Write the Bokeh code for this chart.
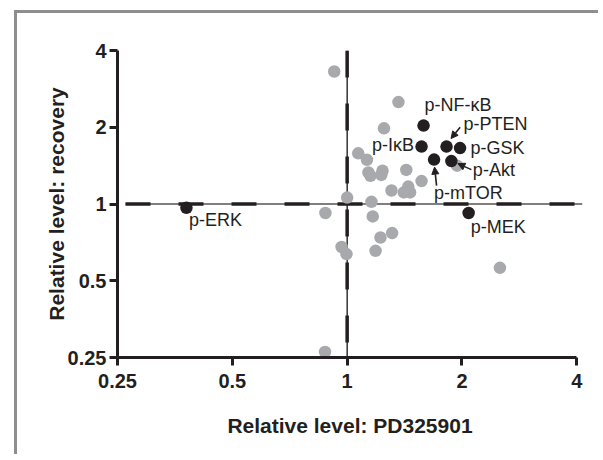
from bokeh.plotting import figure
from bokeh.models import Range1d, ColumnDataSource, Arrow, NormalHead, FixedTicker, CustomJSTickFormatter
from bokeh.embed import file_html
from bokeh.resources import INLINE
from bokeh.core.properties import value
import math

# ---- data ----
gray_x = [0.925, 1.363, 1.249, 1.069, 1.127, 1.137, 1.151, 1.238, 1.229, 1.429, 1.567,
          1.307, 1.408, 1.446, 1.462, 1.0, 1.158, 0.877, 1.167, 1.312, 1.223, 0.967,
          0.996, 1.187, 2.515, 0.875, 1.942]
gray_y = [3.31, 2.51, 1.98, 1.58, 1.49, 1.33, 1.29, 1.35, 1.30, 1.36, 1.23,
          1.13, 1.11, 1.17, 1.11, 1.06, 1.02, 0.922, 0.894, 0.769, 0.739, 0.678,
          0.636, 0.655, 0.562, 0.263, 1.414]

names = ["p-NF-\u03baB", "p-I\u03baB", "p-PTEN", "p-GSK", "p-mTOR", "p-Akt", "p-MEK", "p-ERK"]
black_x = [1.586, 1.567, 1.822, 1.977, 1.69, 1.876, 2.082, 0.379]
black_y = [2.03, 1.68, 1.68, 1.657, 1.493, 1.473, 0.922, 0.967]

ticks = [0.25, 0.5, 1, 2, 4]
tick_labels = ["0.25", "0.5", "1", "2", "4"]

# ---- label styling (screen offsets) ----
label_dx = [1, -7.5, 17, 10.5, 0, 21.5, 2, 2.5]
label_dy = [-21, -2, -23, 0, 33, 8.5, 14, 12]
label_align = ["left", "right", "left", "left", "left", "left", "left", "left"]

# arrows: (label name, start dx, start dy, end dx, end dy) in pixels from point
arrow_specs = [("p-PTEN", 13.6, -19.3, 4.5, -8.0),
               ("p-Akt", 20.0, 8.5, 6.5, 2.5),
               ("p-mTOR", 2.5, 26.0, 0.5, 7.5)]

X0, X1 = 0.25, 4.14
Y0, Y1 = 0.25, 4.0
W, H = 584, 444
BL, BT = 100, 37
FW, FH = 465, 307
BR = W - BL - FW
BB = H - BT - FH

INK = "#231f20"
FONT = "Liberation Sans"

p = figure(width=W, height=H, x_axis_type="log", y_axis_type="log",
           x_range=Range1d(X0, X1), y_range=Range1d(Y0, Y1),
           output_backend="svg", toolbar_location=None,
           min_border_left=BL, min_border_right=BR, min_border_top=BT, min_border_bottom=BB)
p.styles = {"border-left": "3px solid #8e8e8e", "border-top": "3px solid #8e8e8e",
            "margin-left": "14px", "margin-top": "10px"}
p.xgrid.visible = False
p.ygrid.visible = False
p.outline_line_color = None
p.background_fill_color = "white"
p.border_fill_color = "white"

fmt = CustomJSTickFormatter(args=dict(t=ticks, l=tick_labels), code="""
const i = t.findIndex(v => Math.abs(v - tick) < 1e-6);
return i >= 0 ? l[i] : '';
""")
for ax in (p.xaxis[0], p.yaxis[0]):
    ax.ticker = FixedTicker(ticks=ticks, minor_ticks=[])
    ax.formatter = fmt
    ax.axis_line_width = 3
    ax.axis_line_color = INK
    ax.major_tick_line_width = 3
    ax.major_tick_line_color = INK
    ax.major_tick_in = 0
    ax.major_tick_out = 8
    ax.minor_tick_line_color = None
    ax.major_label_text_font = FONT
    ax.major_label_text_font_style = "bold"
    ax.major_label_text_font_size = "20px"
    ax.major_label_text_color = INK
    ax.axis_label_text_font = FONT
    ax.axis_label_text_font_style = "bold"
    ax.axis_label_text_font_size = "21px"
    ax.axis_label_text_color = INK
p.xaxis[0].bounds = (0.25, 4)
p.xaxis.axis_label = "Relative level: PD325901"
p.yaxis.axis_label = "Relative level: recovery"
p.xaxis.major_label_standoff = 8
p.yaxis.major_label_standoff = 3
p.xaxis.axis_label_standoff = 23
p.yaxis.axis_label_standoff = -3

# reference lines at 1
PX = FW / math.log2(X1 / X0)
PY = FH / math.log2(Y1 / Y0)
h_start = X0 * 2 ** (8 / PX)
p.line([h_start, X1], [1, 1], line_color="black", line_width=1.2)
p.line([1, 1], [Y1, Y0], line_color="black", line_width=1.2)
p.line([h_start, 4.03], [1, 1], line_color=INK, line_width=3.5, line_dash="25 28")
p.line([1, 1], [Y1, Y0], line_color=INK, line_width=3.5, line_dash="27 26")

p.scatter(gray_x, gray_y, size=12.5, fill_color="#a7a9ac", line_color=None)
p.scatter(black_x, black_y, size=12.5, fill_color=INK, line_color=None)

src = ColumnDataSource(dict(x=black_x, y=black_y, t=names, dx=label_dx, dy=label_dy, al=label_align))
p.text(x="x", y="y", text="t", x_offset="dx", y_offset="dy", text_align="al",
       text_baseline="middle", text_font=value(FONT), text_font_size="18px", text_color=INK, source=src)

for nm, sdx, sdy, edx, edy in arrow_specs:
    i = names.index(nm)
    bx, by = black_x[i], black_y[i]
    a = Arrow(x_start=bx * 2 ** (sdx / PX), y_start=by * 2 ** (-sdy / PY),
              x_end=bx * 2 ** (edx / PX), y_end=by * 2 ** (-edy / PY),
              line_width=1.6, line_color=INK,
              end=NormalHead(size=7, fill_color=INK, line_color=INK, line_width=1))
    p.add_layout(a)

open("out.html", "w").write(file_html(p, INLINE))
